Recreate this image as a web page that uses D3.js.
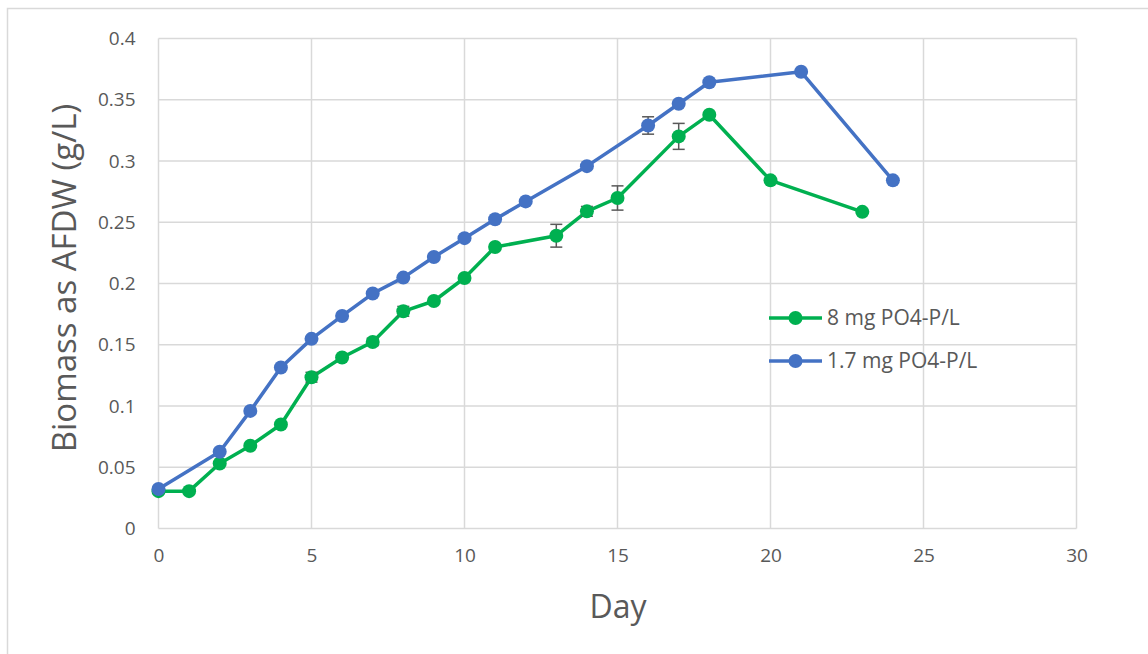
<!DOCTYPE html>
<html>
<head>
<meta charset="utf-8">
<script src="https://cdn.jsdelivr.net/npm/d3@7"></script>
<style>
  html, body { margin: 0; padding: 0; background: #fff; }
  svg { display: block; }
</style>
</head>
<body>
<svg id="chart" width="1148" height="654"></svg>
<script>
// ---- Data ----
const greenName = "8 mg PO4-P/L";
const blueName = "1.7 mg PO4-P/L";
const greenDays = [0, 1, 2, 3, 4, 5, 6, 7, 8, 9, 10, 11, 13, 14, 15, 17, 18, 20, 23];
const greenVals = [0.0305, 0.0305, 0.0531, 0.0675, 0.0849, 0.1235, 0.1396, 0.1523, 0.1773, 0.1857, 0.2045, 0.2298, 0.2390, 0.2589, 0.2698, 0.3201, 0.3378, 0.2842, 0.2585];
const greenErr  = [0, 0, 0, 0, 0, 0.004, 0, 0.003, 0.004, 0, 0, 0, 0.0093, 0.0040, 0.0099, 0.0106, 0, 0, 0];
const blueDays = [0, 2, 3, 4, 5, 6, 7, 8, 9, 10, 11, 12, 14, 16, 17, 18, 21, 24];
const blueVals = [0.0322, 0.0626, 0.0960, 0.1314, 0.1548, 0.1735, 0.1918, 0.2048, 0.2216, 0.2370, 0.2524, 0.2670, 0.2958, 0.3290, 0.3467, 0.3643, 0.3728, 0.2842];
const blueErr  = [0, 0, 0, 0, 0, 0, 0, 0, 0, 0, 0, 0, 0, 0.0071, 0, 0, 0, 0];
const xTicks = [0, 5, 10, 15, 20, 25, 30];
const yTicks = [0, 0.05, 0.1, 0.15, 0.2, 0.25, 0.3, 0.35, 0.4];
const xTitle = "Day";
const yTitle = "Biomass as AFDW (g/L)";

const greenColor = "#00B050";
const blueColor = "#4472C4";
const gridColor = "#d9d9d9";
const textColor = "#595959";
const font = "'Open Sans', 'Liberation Sans', sans-serif";

const svg = d3.select("#chart");

// outer chart border (clipped by canvas on right/bottom)
svg.append("rect").attr("x", 7.5).attr("y", 8.5).attr("width", 1170).attr("height", 670)
  .attr("fill", "#fff").attr("stroke", gridColor).attr("stroke-width", 1.5);

const L = 158.5, R = 1076.5, T = 38.5, B = 528.5;
const x = d3.scaleLinear().domain([0, 30]).range([L, R]);
const y = d3.scaleLinear().domain([0, 0.4]).range([B, T]);

// gridlines
const g = svg.append("g");
g.selectAll(".hg").data(yTicks).join("line")
  .attr("x1", L).attr("x2", R).attr("y1", d => y(d)).attr("y2", d => y(d))
  .attr("stroke", gridColor).attr("stroke-width", 1.5);
g.selectAll(".vg").data(xTicks).join("line")
  .attr("y1", T).attr("y2", B).attr("x1", d => x(d)).attr("x2", d => x(d))
  .attr("stroke", gridColor).attr("stroke-width", 1.5);

// axes (labels only)
const xAxis = svg.append("g").attr("transform", `translate(0,${B})`)
  .call(d3.axisBottom(x).tickValues(xTicks).tickSize(0).tickPadding(20).tickFormat(d3.format("d")));
const yAxis = svg.append("g").attr("transform", `translate(${L},0)`)
  .call(d3.axisLeft(y).tickValues(yTicks).tickSize(0).tickPadding(23).tickFormat(d => d === 0 ? "0" : String(+d.toFixed(2))));
[xAxis, yAxis].forEach(a => {
  a.select(".domain").remove();
  a.selectAll("text").attr("fill", textColor).style("font-family", font).style("font-size", "19px");
});

// axis titles
svg.append("text").attr("x", 618).attr("y", 618).attr("text-anchor", "middle")
  .attr("fill", textColor).style("font-family", font).style("font-size", "32px").text(xTitle);
svg.append("text").attr("transform", `translate(76,278) rotate(-90)`).attr("text-anchor", "middle")
  .attr("fill", textColor).style("font-family", font).style("font-size", "33px").text(yTitle);

function drawSeries(days, vals, errs, color) {
  const pts = days.map((d, i) => ({ d, v: vals[i], e: errs[i] }));
  const line = d3.line().x(p => x(p.d)).y(p => y(p.v));
  svg.append("path").datum(pts).attr("d", line).attr("fill", "none")
    .attr("stroke", color).attr("stroke-width", 3.5).attr("stroke-linejoin", "round");
  const eb = svg.append("g").attr("stroke", "#595959").attr("stroke-width", 1.5);
  pts.filter(p => p.e > 0).forEach(p => {
    const cx = x(p.d), y1 = y(p.v + p.e), y2 = y(p.v - p.e);
    eb.append("line").attr("x1", cx).attr("x2", cx).attr("y1", y1).attr("y2", y2);
    eb.append("line").attr("x1", cx - 6).attr("x2", cx + 6).attr("y1", y1).attr("y2", y1);
    eb.append("line").attr("x1", cx - 6).attr("x2", cx + 6).attr("y1", y2).attr("y2", y2);
  });
  svg.append("g").selectAll("circle").data(pts).join("circle")
    .attr("cx", p => x(p.d)).attr("cy", p => y(p.v)).attr("r", 7).attr("fill", color);
}
drawSeries(greenDays, greenVals, greenErr, greenColor);
drawSeries(blueDays, blueVals, blueErr, blueColor);

// legend
const legend = [{ name: greenName, color: greenColor, yy: 318 }, { name: blueName, color: blueColor, yy: 361 }];
legend.forEach(l => {
  svg.append("line").attr("x1", 769).attr("x2", 822).attr("y1", l.yy).attr("y2", l.yy)
    .attr("stroke", l.color).attr("stroke-width", 3.5);
  svg.append("circle").attr("cx", 795.5).attr("cy", l.yy).attr("r", 7).attr("fill", l.color);
  svg.append("text").attr("x", 827).attr("y", l.yy + 7).attr("fill", textColor)
    .style("font-family", font).style("font-size", "21px").text(l.name);
});
</script>
</body>
</html>
